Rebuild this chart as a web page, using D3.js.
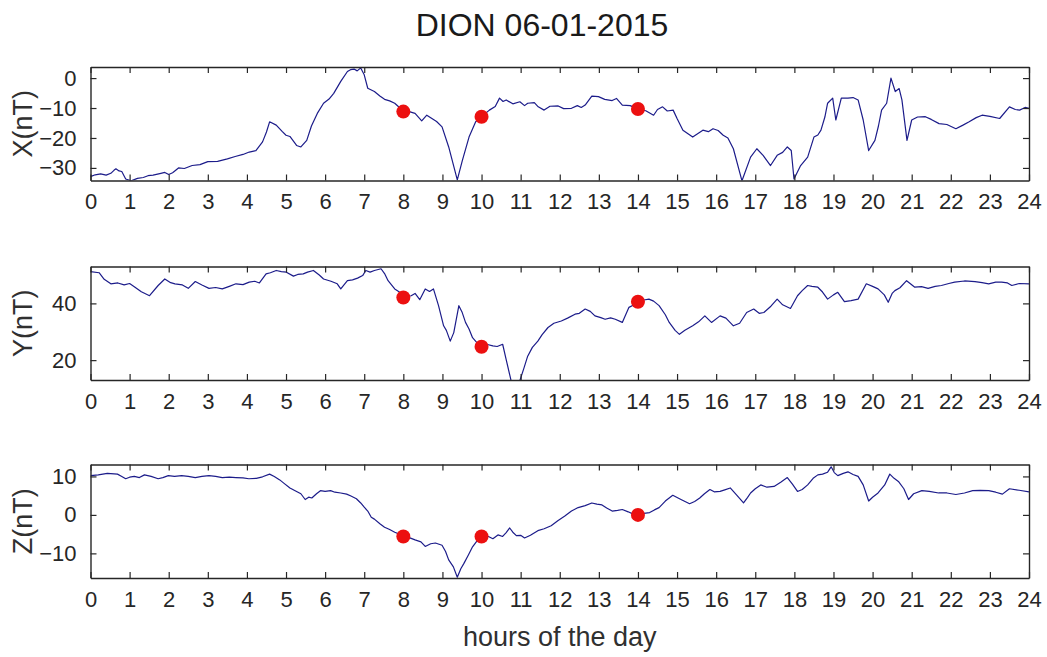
<!DOCTYPE html>
<html>
<head>
<meta charset="utf-8">
<script src="https://cdn.jsdelivr.net/npm/d3@7"></script>
<style>
    body { margin: 0; background: #fff; }
    text { font-family: "Liberation Sans", Arial, Helvetica, sans-serif; fill: #262626; }
</style>
</head>
<body>
<div id="chart"></div>
<script>
(function() {
    // hours of the day, shared tick labels
    var hourTicks = [0,1,2,3,4,5,6,7,8,9,10,11,12,13,14,15,16,17,18,19,20,21,22,23,24];

    // X component (nT): [hour, value]
    var xSeries = [[0,-32.9],[0.12,-32.3],[0.26,-32],[0.4,-32.4],[0.52,-31.8],[0.6,-30.8],[0.65,-30.3],[0.73,-31],[0.8,-31.2],[0.9,-33.7],
        [1.04,-34.3],[1.2,-33.5],[1.35,-33.2],[1.47,-32.6],[1.6,-32.4],[1.8,-31.8],[1.9,-31.5],[2.0,-32.2],[2.1,-31.6],[2.25,-30],
        [2.4,-30.2],[2.6,-29.2],[2.8,-28.9],[3.0,-27.9],[3.25,-27.8],[3.5,-27],[3.7,-26.2],[3.9,-25.5],[4.06,-24.7],[4.23,-24.2],
        [4.4,-21.3],[4.5,-18],[4.58,-14.6],[4.75,-15.7],[4.9,-17.8],[5.0,-19.1],[5.1,-19.5],[5.27,-22.5],[5.38,-23],[5.53,-20.8],
        [5.65,-16],[5.8,-11.8],[5.96,-8.4],[6.1,-7],[6.22,-5.1],[6.4,-1.1],[6.57,2.2],[6.65,2.8],[6.74,3.0],[6.82,2.4],
        [6.91,3.4],[7.0,1.1],[7.09,-3.4],[7.26,-4.5],[7.4,-6],[7.52,-7.1],[7.65,-7.6],[7.78,-8.4],[7.9,-9.8],[8.0,-11.2],
        [8.15,-11.2],[8.3,-11.8],[8.47,-14.3],[8.6,-12.4],[8.73,-13.5],[8.85,-14.5],[8.99,-16.3],[9.16,-23],[9.38,-34],[9.51,-27.5],
        [9.68,-19.7],[9.85,-14.6],[10.0,-12.9],[10.2,-10.7],[10.35,-9.5],[10.46,-6.7],[10.55,-7.8],[10.63,-7.3],[10.8,-8.6],[10.98,-7.9],
        [11.1,-9.2],[11.18,-8.4],[11.35,-8.2],[11.45,-9.6],[11.6,-10.7],[11.75,-9.4],[11.96,-9.3],[12.1,-10.2],[12.3,-10.1],[12.45,-9.2],
        [12.55,-9.8],[12.65,-9],[12.82,-6],[12.99,-6.2],[13.15,-7.1],[13.34,-7.5],[13.45,-6.8],[13.6,-9],[13.8,-9.2],[14.0,-10.3],
        [14.2,-10.9],[14.4,-12.4],[14.5,-10.5],[14.63,-9.6],[14.75,-11],[14.9,-10.7],[15.0,-13.5],[15.15,-17.4],[15.4,-19.7],[15.66,-17.4],
        [15.8,-17.9],[15.92,-16.9],[16.05,-17.5],[16.18,-19.1],[16.3,-20],[16.44,-23.6],[16.66,-34.3],[16.88,-26.4],[17.04,-23.6],[17.2,-25.8],
        [17.39,-29.2],[17.56,-25.8],[17.7,-24.8],[17.82,-23],[17.92,-24.2],[17.99,-33.7],[18.16,-29.2],[18.34,-26.4],[18.5,-19.7],[18.6,-19],
        [18.68,-17.4],[18.78,-13],[18.85,-8.4],[18.98,-6.7],[19.06,-14],[19.2,-6.7],[19.37,-6.7],[19.5,-6.5],[19.63,-7.3],[19.76,-14],
        [19.9,-24.2],[20.06,-20.8],[20.15,-16],[20.23,-10.7],[20.36,-8.4],[20.47,0],[20.58,-4.5],[20.68,-3.5],[20.75,-7.3],[20.88,-20.8],
        [21.0,-14],[21.15,-13],[21.35,-12.9],[21.5,-13.8],[21.7,-15.2],[21.9,-15.5],[22.13,-16.9],[22.3,-15.8],[22.47,-14.6],[22.65,-13.2],
        [22.8,-12.4],[23.0,-12.8],[23.25,-13.5],[23.5,-9.6],[23.65,-10.5],[23.76,-10.7],[23.9,-9.8],[24,-10.1]];

    // Y component (nT)
    var ySeries = [[0,51.2],[0.22,50.8],[0.35,48.5],[0.52,46.9],[0.7,47.2],[0.86,46.5],[1.0,47],[1.12,45.9],[1.3,44.1],[1.51,42.7],
        [1.73,46.3],[1.9,48.6],[2.05,47.3],[2.16,46.9],[2.35,46.5],[2.5,45.3],[2.68,47.7],[2.85,46.5],[3.03,45.3],[3.2,45.6],
        [3.37,45.1],[3.55,46],[3.72,46.9],[3.9,46.6],[4.06,47.5],[4.2,47.8],[4.32,47.2],[4.49,50.4],[4.6,50.8],[4.75,51.6],
        [4.88,51.2],[5.01,51],[5.19,49.6],[5.3,50.2],[5.44,50.4],[5.55,51],[5.7,51.6],[5.85,50],[5.96,48.6],[6.15,47.8],
        [6.31,46.9],[6.4,45.1],[6.57,48],[6.7,48.3],[6.83,48.9],[6.96,49.8],[7.04,51.6],[7.15,51],[7.26,51.6],[7.43,52.2],
        [7.52,50.5],[7.61,48],[7.78,45.1],[7.9,44],[8.0,42.1],[8.2,42.7],[8.3,43.5],[8.42,41.3],[8.56,45.1],[8.67,44.2],
        [8.77,45.1],[8.9,39.2],[9.03,32.1],[9.1,30.5],[9.2,26.7],[9.29,29.7],[9.42,39.2],[9.5,37],[9.59,33.3],[9.68,31],
        [9.77,27.9],[9.88,26.2],[10.0,24.7],[10.15,25.5],[10.29,25],[10.4,24.8],[10.54,25.6],[10.63,20.2],[10.76,12.5],[10.98,12.8],
        [11.08,17],[11.18,21.4],[11.3,24.5],[11.44,26.7],[11.55,29],[11.7,31.5],[11.85,33],[12.04,33.8],[12.2,34.8],[12.39,36.2],
        [12.5,36.5],[12.65,38],[12.78,37.2],[12.9,35.6],[13.05,35],[13.16,34.4],[13.3,34.9],[13.42,34.4],[13.6,33.3],[13.77,38.6],
        [13.9,39.5],[14.0,40.6],[14.15,41.2],[14.28,41.5],[14.4,40.8],[14.54,39.2],[14.7,36],[14.8,33.3],[14.95,30.5],[15.06,29.1],
        [15.2,30.5],[15.4,32.1],[15.55,33.5],[15.71,35.6],[15.88,33.3],[16.1,35.6],[16.25,34.8],[16.44,32.1],[16.6,33],[16.78,36.8],
        [16.96,38],[17.1,36.5],[17.22,36.8],[17.4,39],[17.56,41.5],[17.7,39.5],[17.9,38.2],[18.08,42.7],[18.2,44.5],[18.34,46.3],
        [18.45,46],[18.6,45.7],[18.72,44],[18.85,41.5],[19.0,43],[19.11,43.9],[19.28,40.6],[19.45,41],[19.63,41.5],[19.84,46.9],
        [20.0,46],[20.14,45.1],[20.3,43],[20.4,40.4],[20.5,43.5],[20.57,44.5],[20.7,45.5],[20.87,48],[21.08,45.7],[21.25,45.9],
        [21.42,45.3],[21.6,46],[21.76,46.3],[21.95,47],[22.1,47.5],[22.35,47.9],[22.62,47.7],[22.8,47.3],[22.97,46.9],[23.15,47.5],
        [23.3,47.5],[23.45,47.2],[23.56,46.3],[23.75,47],[24,46.9]];

    // Z component (nT)
    var zSeries = [[0,10.2],[0.2,10.4],[0.43,10.8],[0.69,10.6],[0.8,10],[0.9,9.4],[1.0,9.8],[1.12,10],[1.25,9.7],[1.38,10.4],
        [1.55,10],[1.73,9.4],[1.85,9.7],[1.99,10.2],[2.15,10],[2.33,10.2],[2.5,10],[2.68,9.7],[2.85,10],[3.03,10.2],
        [3.2,10],[3.37,9.7],[3.55,9.8],[3.72,9.7],[3.9,9.6],[4.05,9.4],[4.24,9.5],[4.4,9.9],[4.58,10.6],[4.7,10],
        [4.84,9.1],[4.95,8.2],[5.1,7],[5.27,6.1],[5.38,5.5],[5.49,4],[5.58,4.6],[5.66,4.4],[5.78,5.5],[5.88,6.3],
        [6.0,6.1],[6.14,6.3],[6.25,5.9],[6.4,5.7],[6.55,5.4],[6.66,4.9],[6.8,4.2],[6.91,3.1],[7.0,2],[7.09,1],
        [7.18,-0.6],[7.26,-1.1],[7.4,-2.3],[7.52,-3.2],[7.65,-3.8],[7.78,-4.5],[7.9,-5],[8.0,-5.6],[8.15,-5.9],[8.3,-6.5],
        [8.45,-7],[8.56,-8.2],[8.7,-7.5],[8.82,-7.3],[8.99,-7.9],[9.08,-9.5],[9.16,-11.7],[9.28,-13.5],[9.38,-16.2],[9.47,-14],
        [9.55,-12.6],[9.66,-10.5],[9.77,-8.3],[9.88,-6.8],[10.0,-5.6],[10.15,-5.5],[10.29,-6.2],[10.42,-5.2],[10.54,-5.6],[10.63,-4.6],
        [10.72,-3.4],[10.8,-4.5],[10.89,-5.4],[11.0,-5.3],[11.1,-6],[11.25,-5.3],[11.44,-4.1],[11.6,-3.6],[11.78,-2.8],[11.95,-1.5],
        [12.13,-0.3],[12.3,1],[12.47,1.9],[12.65,2.4],[12.82,3.1],[12.95,2.8],[13.08,2.6],[13.2,1.8],[13.34,1],[13.48,1.2],
        [13.6,1.4],[13.75,0.8],[13.88,0.2],[14.0,0],[14.15,0.4],[14.3,0.6],[14.42,1.3],[14.54,1.9],[14.7,3.6],[14.89,5.1],
        [15.1,4],[15.32,2.9],[15.45,3.5],[15.58,4.4],[15.7,5.5],[15.84,6.6],[15.95,6],[16.1,6.1],[16.22,6.5],[16.36,7],
        [16.52,5.2],[16.7,3.1],[16.8,4.5],[16.88,5.7],[17.0,6.8],[17.14,7.8],[17.3,7.2],[17.48,7.4],[17.65,8.5],[17.82,9.7],
        [17.95,8],[18.08,6.1],[18.2,6.6],[18.34,7.8],[18.48,9.5],[18.6,10.4],[18.72,10.6],[18.85,11.1],[18.94,12.5],[19.02,11],
        [19.11,10.2],[19.25,10.8],[19.37,11.2],[19.5,10.5],[19.63,10],[19.76,7.8],[19.9,3.6],[20.0,4.6],[20.14,5.7],[20.31,7.8],
        [20.44,10.6],[20.55,9.5],[20.66,8.7],[20.8,6.8],[20.92,4],[21.05,5.5],[21.26,6.3],[21.45,6.1],[21.69,5.7],[21.9,5.7],
        [22.13,5.3],[22.35,5.7],[22.56,6.3],[22.75,6.4],[22.97,6.3],[23.15,5.9],[23.32,5.4],[23.5,6.8],[23.75,6.4],[24,6]];

    // red markers at 8h, 10h and 14h
    var markerHours = [8, 10, 14];
    var markerX = [-11.2, -12.9, -10.3];
    var markerY = [42.1, 24.7, 40.6];
    var markerZ = [-5.6, -5.6, 0];

    var xTicksX = [-30, -20, -10, 0];
    var yTicksY = [20, 40];
    var zTicksZ = [-10, 0, 10];

    var panels = [
        {label: "X(nT)", series: xSeries, marks: markerX, ticks: xTicksX, domain: [-34.2, 3.7], top: 67},
        {label: "Y(nT)", series: ySeries, marks: markerY, ticks: yTicksY, domain: [13, 53], top: 266.5},
        {label: "Z(nT)", series: zSeries, marks: markerZ, ticks: zTicksZ, domain: [-16.4, 13.1], top: 464.5}
    ];

    var W = 1047, H = 657;
    var left = 90.5, right = 1029, ph = 113.5;

    var svg = d3.select("#chart").append("svg")
        .attr("width", W)
        .attr("height", H);

    var x = d3.scaleLinear().domain([0, 24]).range([0, right - left]);

    svg.append("text")
        .attr("x", 542)
        .attr("y", 36)
        .style("text-anchor", "middle")
        .style("font-size", "32px")
        .style("fill", "#1a1a1a")
        .text("DION 06-01-2015");

    panels.forEach(function(p, k) {
        var y = d3.scaleLinear().domain(p.domain).range([ph, 0]);
        var g = svg.append("g")
            .attr("transform", "translate(" + left + "," + p.top + ")");

        g.append("clipPath").attr("id", "clip" + k)
            .append("rect").attr("width", right - left).attr("height", ph);

        var line = d3.line()
            .x(d => x(d[0]))
            .y(d => y(d[1]));

        g.append("path")
            .datum(p.series)
            .attr("clip-path", "url(#clip" + k + ")")
            .attr("d", line)
            .attr("fill", "none")
            .attr("stroke", "#1c1c8a")
            .attr("stroke-width", 1.2)
            .attr("stroke-linejoin", "round");

        g.selectAll(".dot")
            .data(p.marks)
            .enter()
            .append("circle")
            .attr("class", "dot")
            .attr("cx", (d, i) => x(markerHours[i]))
            .attr("cy", d => y(d))
            .attr("r", 7)
            .attr("fill", "#ec1010");

        // MATLAB style box: ticks pointing in on all four sides
        var bottomAxis = g.append("g")
            .attr("transform", "translate(0," + ph + ")")
            .call(d3.axisBottom(x).tickValues(hourTicks).tickSizeInner(-6).tickSizeOuter(0).tickPadding(13));
        var topAxis = g.append("g")
            .call(d3.axisTop(x).tickValues(hourTicks).tickSizeInner(-6).tickSizeOuter(0).tickFormat(""));
        var leftAxis = g.append("g")
            .call(d3.axisLeft(y).tickValues(p.ticks).tickSizeInner(-6).tickSizeOuter(0).tickPadding(14));
        var rightAxis = g.append("g")
            .attr("transform", "translate(" + (right - left) + ",0)")
            .call(d3.axisRight(y).tickValues(p.ticks).tickSizeInner(-6).tickSizeOuter(0).tickFormat(""));

        [bottomAxis, topAxis, leftAxis, rightAxis].forEach(function(a) {
            a.select(".domain").attr("stroke", "#262626").attr("stroke-width", 1.4);
            a.selectAll(".tick line").attr("stroke", "#262626").attr("stroke-width", 1.2);
            a.selectAll(".tick text")
                .style("font-size", "22px")
                .style("font-family", "'Liberation Sans', Arial, sans-serif")
                .attr("fill", "#3a3a3a");
        });

        g.append("text")
            .attr("transform", "rotate(-90)")
            .attr("x", -ph / 2)
            .attr("y", 32 - left)
            .style("text-anchor", "middle")
            .style("font-size", "27px")
            .style("fill", "#303030")
            .text(p.label);
    });

    svg.append("text")
        .attr("x", (left + right) / 2)
        .attr("y", 646)
        .style("text-anchor", "middle")
        .style("font-size", "27px")
        .style("fill", "#303030")
        .text("hours of the day");
})();
</script>
</body>
</html>
